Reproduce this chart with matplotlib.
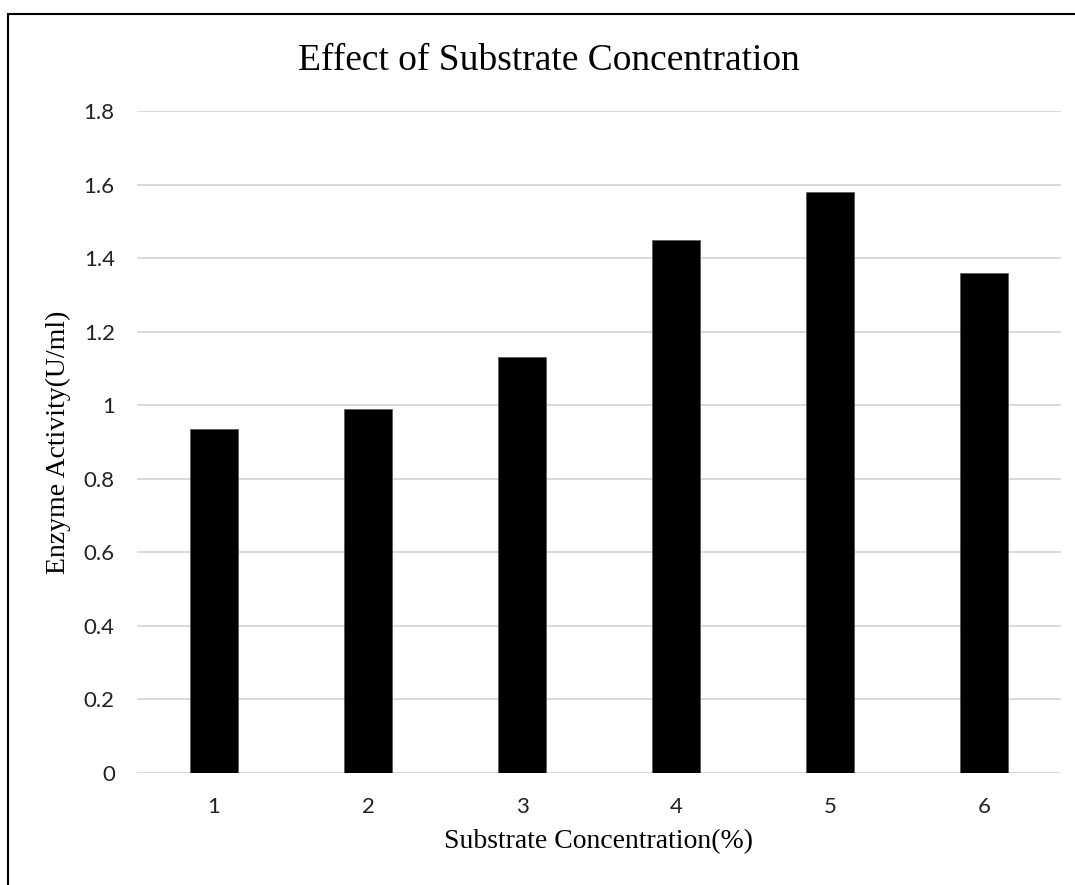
import matplotlib.pyplot as plt
from matplotlib.patches import Rectangle

# data
concentration = ["1", "2", "3", "4", "5", "6"]
activity = [0.935, 0.99, 1.13, 1.45, 1.58, 1.36]
y_ticks = [0, 0.2, 0.4, 0.6, 0.8, 1, 1.2, 1.4, 1.6, 1.8]
y_tick_labels = ["0", "0.2", "0.4", "0.6", "0.8", "1", "1.2", "1.4", "1.6", "1.8"]

tick_font = "Lato"
serif_font = "Liberation Serif"

fig = plt.figure(figsize=(10.75, 8.85), dpi=100)
ax = fig.add_axes([137 / 1075, 1 - 773 / 885, 924 / 1075, 662 / 885])

x = range(len(concentration))
ax.bar(x, activity, width=0.31, color="black", edgecolor="#555555", linewidth=0.5, zorder=3)

ax.set_xlim(-0.5, len(concentration) - 0.5)
ax.set_ylim(0, 1.8)
ax.set_xticks(list(x))
ax.set_xticklabels(concentration, fontfamily=tick_font, fontsize=16)
ax.set_yticks(y_ticks)
ax.set_yticklabels(y_tick_labels, fontfamily=tick_font, fontsize=16)
ax.tick_params(axis="both", length=0, colors="#222222")
ax.tick_params(axis="x", pad=17)
ax.tick_params(axis="y", pad=16)

ax.grid(axis="y", color="#d9d9d9", linewidth=1.4, zorder=0)
for s in ["top", "right", "left", "bottom"]:
    ax.spines[s].set_visible(False)

ax.set_xlabel("Substrate Concentration(%)", fontfamily=serif_font, fontsize=20)
ax.set_ylabel("Enzyme Activity(U/ml)", fontfamily=serif_font, fontsize=20)
ax.xaxis.set_label_coords(0.5, -0.085)
ax.yaxis.set_label_coords(-0.071, 0.5)

fig.text(549 / 1075, 1 - 70 / 885, "Effect of Substrate Concentration",
         fontfamily=serif_font, fontsize=27, ha="center", va="baseline")

# chart border (only left and top edges show in the reference)
fig.add_artist(Rectangle((8 / 1075, -0.05), 1.1, 1 - 14 / 885 + 0.05,
                         transform=fig.transFigure, fill=False,
                         edgecolor="black", linewidth=1.5))

fig.savefig("out.png", dpi=100)
